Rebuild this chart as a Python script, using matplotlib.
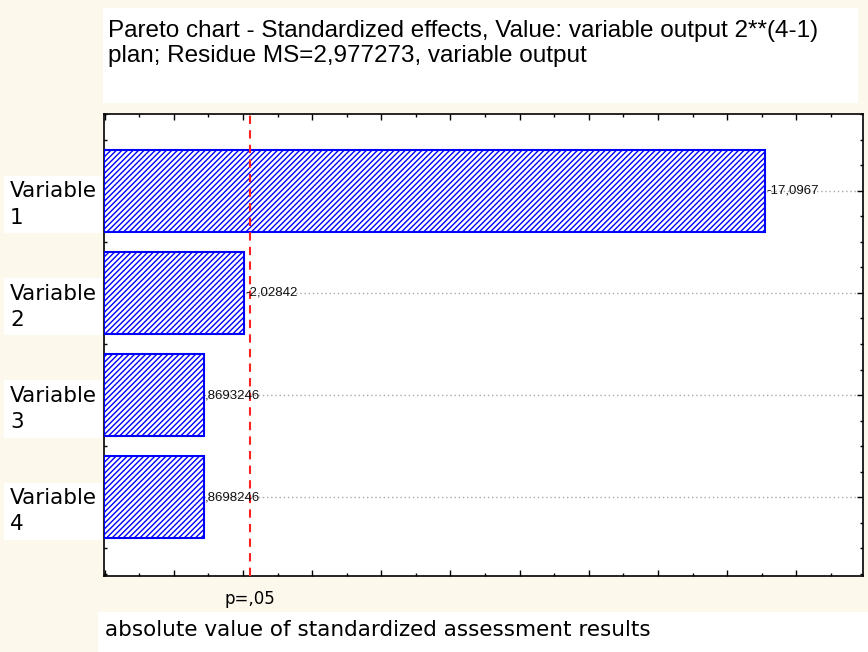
import matplotlib
matplotlib.use("Agg")
import matplotlib.pyplot as plt
from matplotlib.ticker import MultipleLocator

# data
variables = ["Variable\n1", "Variable\n2", "Variable\n3", "Variable\n4"]
effects = [17.0967, 2.02842, 0.8693246, 0.8693246]
effect_labels = ["-17,0967", "-2,02842", ",8693246", ",8698246"]
p_crit = 2.2
p_label = "p=,05"

title_lines = "Pareto chart - Standardized effects, Value: variable output 2**(4-1)\nplan; Residue MS=2,977273, variable output"
x_label = "absolute value of standardized assessment results"

bg = "#fdf8ec"
xmin, xmax = -2.02, 19.93

plt.rcParams["hatch.color"] = "#2b2bff"
plt.rcParams["hatch.linewidth"] = 1.0

fig = plt.figure(figsize=(8.68, 6.52), dpi=100, facecolor=bg)
W, H = 868, 652

# white panels behind the title and the axis label
def white_box(x0, y0, x1, y1):
    fig.patches.append(plt.Rectangle((x0 / W, 1 - y1 / H), (x1 - x0) / W, (y1 - y0) / H,
                                     transform=fig.transFigure, facecolor="white",
                                     edgecolor="none", zorder=0))

white_box(103, 8, 858, 103)
white_box(98, 612, 868, 652)

ax = fig.add_axes([104 / W, 1 - 576 / H, (863 - 104) / W, (576 - 114) / H])
ax.set_facecolor("white")

ypos = list(range(len(effects)))
ax.barh(ypos, [e - xmin for e in effects], left=xmin, height=0.8,
        facecolor="white", edgecolor="#0000ff", linewidth=1.5, hatch="//////", zorder=3)

ax.set_xlim(xmin, xmax)
ax.set_ylim(3.77, -0.75)

# dotted grid at bar centres
for y in ypos:
    ax.axhline(y, color="#a8a8a8", linestyle=(0, (1, 2)), linewidth=1, zorder=1)

ax.axvline(p_crit, color="#ff2020", linestyle=(0, (4, 3)), linewidth=1.5, zorder=4)

for y, e, lab in zip(ypos, effects, effect_labels):
    ax.text(e + 0.03, y, lab, va="center", ha="left", fontsize=9.5,
            family="Liberation Sans", color="#111111", zorder=5)

ax.xaxis.set_major_locator(MultipleLocator(2))
ax.xaxis.set_minor_locator(MultipleLocator(1))
ax.yaxis.set_major_locator(MultipleLocator(1))
ax.yaxis.set_minor_locator(MultipleLocator(0.25))
ax.tick_params(which="both", direction="in", top=True, right=True,
               labelbottom=False, labelleft=False, color="black")
ax.tick_params(which="major", length=4, width=1)
ax.tick_params(which="minor", length=2.5, width=1)
for s in ax.spines.values():
    s.set_linewidth(1.2)

# category labels at the left
for y, name in zip(ypos, variables):
    ax.text(-0.124, y - 0.09, name, transform=ax.get_yaxis_transform(),
            va="top", ha="left", fontsize=15.5, family="DejaVu Sans", linespacing=1.38,
            bbox=dict(facecolor="white", edgecolor="none", pad=4))

fig.text(108 / W, 1 - 20 / H, title_lines, ha="left", va="top", fontsize=17.5,
         family="Liberation Sans", linespacing=1.2)
ax.text(p_crit, -0.03, p_label, transform=ax.get_xaxis_transform(),
        ha="center", va="top", fontsize=12, family="DejaVu Sans")
fig.text(105 / W, 1 - 630 / H, x_label, ha="left", va="center", fontsize=15.5,
         family="DejaVu Sans")

fig.savefig("out.png", dpi=100, facecolor=bg)
